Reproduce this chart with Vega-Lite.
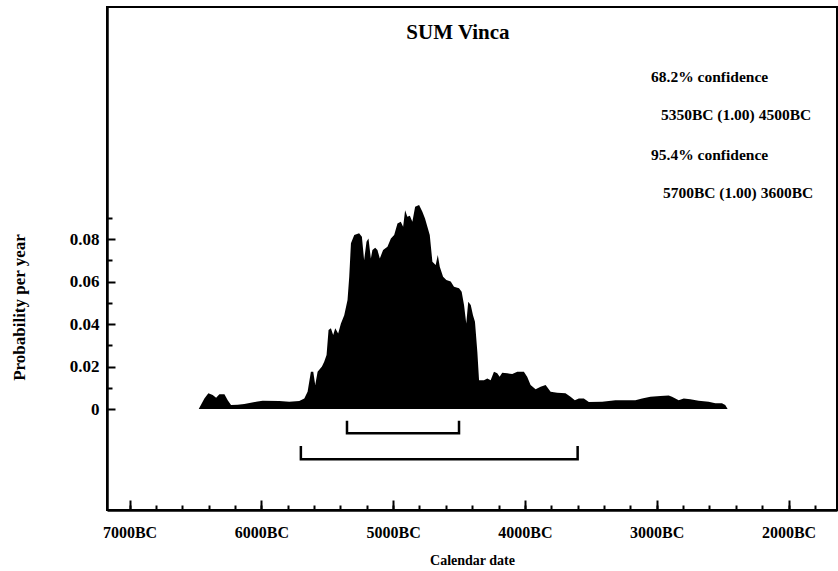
{
  "$schema": "https://vega.github.io/schema/vega-lite/v6.json",
  "width": 730,
  "height": 503,
  "autosize": {"type": "none"},
  "padding": {"left": 107, "top": 7, "right": 1, "bottom": 61},
  "background": "white",
  "config": {
    "view": {"stroke": "black", "strokeWidth": 2},
    "font": "Liberation Serif"
  },
  "datasets": {
    "density": [
      {"bc": 6475, "p": 0}, {"bc": 6432, "p": 0.005}, {"bc": 6402, "p": 0.0074}, {"bc": 6369, "p": 0.0066},
      {"bc": 6343, "p": 0.0053}, {"bc": 6318, "p": 0.007}, {"bc": 6280, "p": 0.007}, {"bc": 6255, "p": 0.0042},
      {"bc": 6230, "p": 0.0019}, {"bc": 6180, "p": 0.002}, {"bc": 6129, "p": 0.0024}, {"bc": 6040, "p": 0.0034},
      {"bc": 5990, "p": 0.0039}, {"bc": 5864, "p": 0.0038}, {"bc": 5788, "p": 0.0034}, {"bc": 5712, "p": 0.0038},
      {"bc": 5674, "p": 0.005}, {"bc": 5649, "p": 0.0082}, {"bc": 5624, "p": 0.0176}, {"bc": 5606, "p": 0.0176},
      {"bc": 5591, "p": 0.0113}, {"bc": 5573, "p": 0.0176}, {"bc": 5540, "p": 0.02}, {"bc": 5523, "p": 0.0223},
      {"bc": 5505, "p": 0.0254}, {"bc": 5490, "p": 0.0372}, {"bc": 5472, "p": 0.038}, {"bc": 5455, "p": 0.0348},
      {"bc": 5439, "p": 0.038}, {"bc": 5417, "p": 0.0356}, {"bc": 5396, "p": 0.0403}, {"bc": 5371, "p": 0.0442},
      {"bc": 5346, "p": 0.0513}, {"bc": 5333, "p": 0.0623}, {"bc": 5320, "p": 0.078}, {"bc": 5295, "p": 0.0819},
      {"bc": 5258, "p": 0.0827}, {"bc": 5237, "p": 0.0811}, {"bc": 5220, "p": 0.07}, {"bc": 5202, "p": 0.0787},
      {"bc": 5187, "p": 0.0803}, {"bc": 5169, "p": 0.0709}, {"bc": 5157, "p": 0.0748}, {"bc": 5136, "p": 0.0759},
      {"bc": 5119, "p": 0.0748}, {"bc": 5101, "p": 0.0709}, {"bc": 5076, "p": 0.0748}, {"bc": 5043, "p": 0.0764},
      {"bc": 5017, "p": 0.0803}, {"bc": 4992, "p": 0.0819}, {"bc": 4967, "p": 0.0873}, {"bc": 4942, "p": 0.0881},
      {"bc": 4924, "p": 0.0858}, {"bc": 4909, "p": 0.0936}, {"bc": 4892, "p": 0.0905}, {"bc": 4873, "p": 0.091},
      {"bc": 4854, "p": 0.0881}, {"bc": 4833, "p": 0.0952}, {"bc": 4803, "p": 0.096}, {"bc": 4778, "p": 0.0929},
      {"bc": 4758, "p": 0.0897}, {"bc": 4740, "p": 0.0858}, {"bc": 4722, "p": 0.0819}, {"bc": 4702, "p": 0.0693},
      {"bc": 4677, "p": 0.0678}, {"bc": 4661, "p": 0.0725}, {"bc": 4646, "p": 0.067}, {"bc": 4621, "p": 0.0623},
      {"bc": 4596, "p": 0.0607}, {"bc": 4563, "p": 0.06}, {"bc": 4538, "p": 0.0576}, {"bc": 4500, "p": 0.0568},
      {"bc": 4480, "p": 0.0552}, {"bc": 4462, "p": 0.049}, {"bc": 4445, "p": 0.0403}, {"bc": 4430, "p": 0.0505},
      {"bc": 4411, "p": 0.049}, {"bc": 4394, "p": 0.0442}, {"bc": 4379, "p": 0.0411}, {"bc": 4361, "p": 0.027},
      {"bc": 4348, "p": 0.0136}, {"bc": 4311, "p": 0.0136}, {"bc": 4285, "p": 0.0144}, {"bc": 4260, "p": 0.0136},
      {"bc": 4235, "p": 0.0176}, {"bc": 4210, "p": 0.0168}, {"bc": 4192, "p": 0.0152}, {"bc": 4172, "p": 0.0171},
      {"bc": 4134, "p": 0.0168}, {"bc": 4096, "p": 0.0165}, {"bc": 4058, "p": 0.0176}, {"bc": 4008, "p": 0.0176},
      {"bc": 3983, "p": 0.0152}, {"bc": 3957, "p": 0.0113}, {"bc": 3919, "p": 0.0093}, {"bc": 3881, "p": 0.0105},
      {"bc": 3843, "p": 0.0113}, {"bc": 3805, "p": 0.0082}, {"bc": 3755, "p": 0.0077}, {"bc": 3692, "p": 0.0074},
      {"bc": 3654, "p": 0.0058}, {"bc": 3621, "p": 0.0042}, {"bc": 3591, "p": 0.005}, {"bc": 3553, "p": 0.005},
      {"bc": 3515, "p": 0.0033}, {"bc": 3414, "p": 0.0034}, {"bc": 3313, "p": 0.0042}, {"bc": 3212, "p": 0.0042},
      {"bc": 3162, "p": 0.0042}, {"bc": 3111, "p": 0.005}, {"bc": 3048, "p": 0.0058}, {"bc": 2972, "p": 0.0061},
      {"bc": 2909, "p": 0.0064}, {"bc": 2884, "p": 0.0058}, {"bc": 2833, "p": 0.0042}, {"bc": 2795, "p": 0.005},
      {"bc": 2745, "p": 0.0046}, {"bc": 2682, "p": 0.0039}, {"bc": 2606, "p": 0.0034}, {"bc": 2555, "p": 0.0027},
      {"bc": 2505, "p": 0.0027}, {"bc": 2480, "p": 0.0019}, {"bc": 2462, "p": 0}
    ],
    "brackets": [
      {"range": "68.2%", "o": 1, "bc": 5350, "p": -0.0055},
      {"range": "68.2%", "o": 2, "bc": 5350, "p": -0.0114},
      {"range": "68.2%", "o": 3, "bc": 4500, "p": -0.0114},
      {"range": "68.2%", "o": 4, "bc": 4500, "p": -0.0055},
      {"range": "95.4%", "o": 1, "bc": 5700, "p": -0.0174},
      {"range": "95.4%", "o": 2, "bc": 5700, "p": -0.0236},
      {"range": "95.4%", "o": 3, "bc": 3600, "p": -0.0236},
      {"range": "95.4%", "o": 4, "bc": 3600, "p": -0.0174}
    ],
    "notes": [
      {"label": "68.2% confidence", "bc": 3043, "p": 0.1539},
      {"label": "5350BC (1.00) 4500BC", "bc": 2968, "p": 0.136},
      {"label": "95.4% confidence", "bc": 3043, "p": 0.1172},
      {"label": "5700BC (1.00) 3600BC", "bc": 2953, "p": 0.0993}
    ],
    "heading": [
      {"label": "SUM Vinca", "bc": 4508, "p": 0.1741}
    ]
  },
  "resolve": {"axis": {"x": "independent", "y": "independent"}},
  "layer": [
    {
      "data": {"name": "density"},
      "mark": {"type": "area", "color": "black", "interpolate": "linear"},
      "encoding": {
        "x": {
          "field": "bc", "type": "quantitative",
          "scale": {"domain": [7171, 1632], "nice": false, "zero": false},
          "axis": {
            "orient": "bottom",
            "values": [7000, 6000, 5000, 4000, 3000, 2000],
            "labelExpr": "datum.value + 'BC'",
            "domain": true, "domainWidth": 2.5, "domainColor": "black", "grid": false,
            "ticks": true, "tickSize": -10, "tickWidth": 2, "tickColor": "black",
            "labelFont": "Liberation Serif", "labelFontWeight": "bold", "labelFontSize": 16, "labelColor": "black",
            "labelPadding": 32, "labelBaseline": "middle", "labelFlush": false, "labelOverlap": false, "labelBound": false,
            "title": "Calendar date",
            "titleFont": "Liberation Serif", "titleFontWeight": "bold", "titleFontSize": 14, "titleColor": "black",
            "titleY": 50, "titleBaseline": "middle"
          }
        },
        "y": {
          "field": "p", "type": "quantitative",
          "scale": {"domain": [-0.0475, 0.1892], "nice": false, "zero": false},
          "axis": {
            "orient": "left",
            "values": [0, 0.02, 0.04, 0.06, 0.08],
            "format": ".2~f",
            "domain": true, "domainWidth": 2.5, "domainColor": "black", "grid": false,
            "ticks": true, "tickSize": -8, "tickWidth": 2, "tickColor": "black",
            "labelFont": "Liberation Serif", "labelFontWeight": "bold", "labelFontSize": 17, "labelColor": "black",
            "labelPadding": 16, "labelBaseline": "middle", "labelFlush": false, "labelOverlap": false, "labelBound": false,
            "title": "Probability per year",
            "titleFont": "Liberation Serif", "titleFontWeight": "bold", "titleFontSize": 17, "titleColor": "black",
            "titleAngle": -90, "titleX": -88, "titleY": 300, "titleAlign": "center", "titleBaseline": "middle"
          }
        },
        "y2": {"datum": 0}
      }
    },
    {
      "data": {"name": "brackets"},
      "mark": {"type": "line", "color": "black", "strokeWidth": 2.5, "interpolate": "linear"},
      "encoding": {
        "x": {
          "field": "bc", "type": "quantitative",
          "axis": {
            "orient": "bottom",
            "values": [7000, 6800, 6600, 6400, 6200, 6000, 5800, 5600, 5400, 5200, 5000, 4800, 4600, 4400, 4200, 4000, 3800, 3600, 3400, 3200, 3000, 2800, 2600, 2400, 2200, 2000, 1800],
            "labels": false, "domain": false, "grid": false, "title": null,
            "tickSize": -5, "tickWidth": 2, "tickColor": "black"
          }
        },
        "y": {
          "field": "p", "type": "quantitative",
          "axis": {
            "orient": "left",
            "values": [0.01, 0.03, 0.05, 0.07, 0.09],
            "labels": false, "domain": false, "grid": false, "title": null,
            "tickSize": -5, "tickWidth": 2, "tickColor": "black"
          }
        },
        "detail": {"field": "range", "type": "nominal"},
        "order": {"field": "o", "type": "quantitative"}
      }
    },
    {
      "data": {"name": "notes"},
      "mark": {"type": "text", "align": "left", "baseline": "alphabetic", "font": "Liberation Serif", "fontWeight": "bold", "fontSize": 15.5, "color": "black"},
      "encoding": {
        "x": {"field": "bc", "type": "quantitative", "axis": null},
        "y": {"field": "p", "type": "quantitative", "axis": null},
        "text": {"field": "label", "type": "nominal"}
      }
    },
    {
      "data": {"name": "heading"},
      "mark": {"type": "text", "align": "center", "baseline": "alphabetic", "font": "Liberation Serif", "fontWeight": "bold", "fontSize": 21, "color": "black"},
      "encoding": {
        "x": {"field": "bc", "type": "quantitative", "axis": null},
        "y": {"field": "p", "type": "quantitative", "axis": null},
        "text": {"field": "label", "type": "nominal"}
      }
    }
  ]
}
